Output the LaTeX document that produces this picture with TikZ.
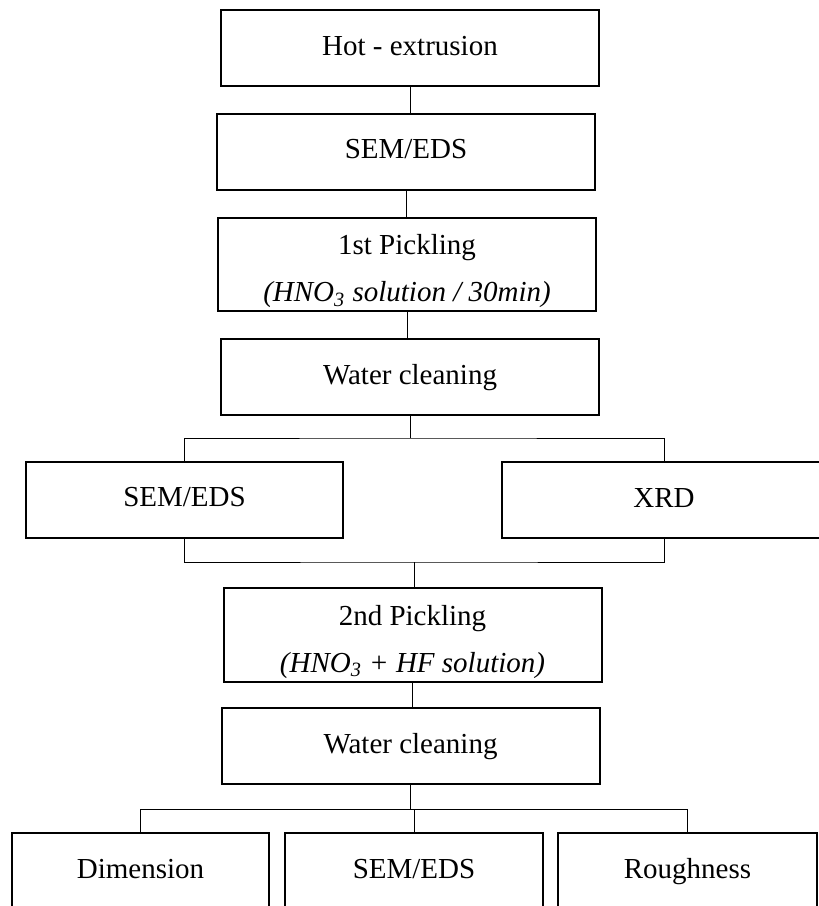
\documentclass[tikz,border=0pt]{standalone}
\usepackage{fontspec}
\setmainfont{Liberation Serif}
\begin{document}
\begin{tikzpicture}[x=0.5pt,y=-0.5pt,
  box/.style={draw,line width=1pt,minimum width=189pt,minimum height=38pt,inner sep=0pt,align=center,font=\fontsize{14.5}{23.5}\selectfont},
  one/.style={text height=10.9pt,text depth=3.9pt},
  wire/.style={line width=0.5pt}]
\useasboundingbox (0,0) rectangle (819,906);

\node[box,one] (v1) at (410,48) {Hot - extrusion};
\node[box,one] (v2) at (406,151.5) {SEM/EDS};
\node[box,minimum height=46.5pt] (v3) at (407,264.5) {\rule{0pt}{17pt}1st Pickling\\\textit{(HNO\textsubscript{3} solution / 30min)}};
\node[box,one] (v4) at (410,377) {Water cleaning};
\node[box,one,minimum width=158.5pt] (v5) at (184.5,499.5) {SEM/EDS};
\node[box,one,minimum width=162pt] (v6) at (664,500) {XRD};
\node[box,minimum height=47pt] (v7) at (412.5,635) {\rule{0pt}{17pt}2nd Pickling\\\textit{(HNO\textsubscript{3} + HF solution)}};
\node[box,one] (v8) at (410.5,746) {Water cleaning};
\node[box,one,minimum width=128.5pt] (v9) at (140.5,871) {Dimension};
\node[box,one,minimum width=129pt] (v10) at (414,871) {SEM/EDS};
\node[box,one,minimum width=129.5pt] (v11) at (687.5,871) {Roughness};

\coordinate (v12) at (412,438);
\coordinate (v13) at (414,562);
\coordinate (v14) at (414,809);

\draw[wire] (v1.south) -- (v1.south |- v2.north);
\draw[wire] (v2.south) -- (v2.south |- v3.north);
\draw[wire] (v3.south) -- (v3.south |- v4.north);
\draw[wire] (v4.south) -- (v4.south |- v12);
\draw[wire] (v5.north) |- (v12) -| (v6.north);
\draw[wire] (v5.south) |- (v13) -| (v6.south);
\draw[wire] (v13) -- (v13 |- v7.north);
\draw[wire] (v7.south) -- (v7.south |- v8.north);
\draw[wire] (v8.south) -- (v8.south |- v14);
\draw[wire] (v9.north) |- (v14) -| (v11.north);
\draw[wire] (v14) -- (v10.north);
\end{tikzpicture}
\end{document}
